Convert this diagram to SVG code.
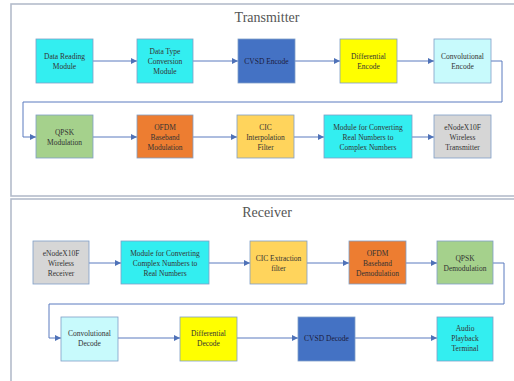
<svg xmlns="http://www.w3.org/2000/svg" width="514" height="381" viewBox="0 0 514 381">
<defs>
<marker id="ah" markerWidth="6" markerHeight="6" refX="6" refY="3" orient="auto" markerUnits="userSpaceOnUse">
<path d="M0,0 L6,3 L0,6 Z" fill="#4f72b8"/>
</marker>
<style>
.panel{fill:#ffffff;stroke:#b4bccb;stroke-width:1.6}
.box{stroke:#7f9fc7;stroke-width:0.8}
.lbl{font-family:'Liberation Serif','Times New Roman',serif;font-size:7.5px;fill:#333;text-anchor:middle}
.title{font-family:'Liberation Serif','Times New Roman',serif;font-size:14px;fill:#555;text-anchor:middle}
.conn{fill:none;stroke:#5b7bbf;stroke-width:1}
</style>
</defs>
<rect width="514" height="381" fill="#ffffff"/>
<rect class="panel" x="11" y="4" width="520" height="192"/>
<rect class="panel" x="11" y="199" width="520" height="200"/>
<text class="title" x="267" y="22">Transmitter</text>
<text class="title" x="267" y="217">Receiver</text>

<g id="connectors">
<line class="conn" x1="93" y1="61" x2="137" y2="61" marker-end="url(#ah)"/>
<line class="conn" x1="193" y1="61" x2="238" y2="61" marker-end="url(#ah)"/>
<line class="conn" x1="295" y1="61" x2="340" y2="61" marker-end="url(#ah)"/>
<line class="conn" x1="397" y1="61" x2="434" y2="61" marker-end="url(#ah)"/>
<polyline class="conn" points="491,61 502,61 502,102 23,102 23,137 36,137" marker-end="url(#ah)"/>
<line class="conn" x1="93" y1="137" x2="137" y2="137" marker-end="url(#ah)"/>
<line class="conn" x1="193" y1="137" x2="237" y2="137" marker-end="url(#ah)"/>
<line class="conn" x1="294" y1="137" x2="324" y2="137" marker-end="url(#ah)"/>
<line class="conn" x1="412" y1="137" x2="434" y2="137" marker-end="url(#ah)"/>

<line class="conn" x1="89" y1="263" x2="121" y2="263" marker-end="url(#ah)"/>
<line class="conn" x1="209" y1="263" x2="250" y2="263" marker-end="url(#ah)"/>
<line class="conn" x1="307" y1="263" x2="349" y2="263" marker-end="url(#ah)"/>
<line class="conn" x1="406" y1="263" x2="437" y2="263" marker-end="url(#ah)"/>
<polyline class="conn" points="493,263 504,263 504,304 49,304 49,338 61,338" marker-end="url(#ah)"/>
<line class="conn" x1="118" y1="338" x2="180" y2="338" marker-end="url(#ah)"/>
<line class="conn" x1="237" y1="338" x2="298" y2="338" marker-end="url(#ah)"/>
<line class="conn" x1="355" y1="338" x2="437" y2="338" marker-end="url(#ah)"/>
</g>

<g id="t1"><rect class="box" x="36" y="39" width="57" height="44" fill="#33eef0"/>
<text class="lbl" x="64.5" y="58.5">Data Reading</text><text class="lbl" x="64.5" y="68.5">Module</text></g>
<g id="t2"><rect class="box" x="137" y="39" width="56" height="44" fill="#33eef0"/>
<text class="lbl" x="165" y="53.5">Data Type</text><text class="lbl" x="165" y="63.5">Conversion</text><text class="lbl" x="165" y="73.5">Module</text></g>
<g id="t3"><rect class="box" x="238" y="39" width="57" height="44" fill="#4472c4"/>
<text class="lbl" x="266.5" y="63.5" style="fill:#1c1c3c">CVSD Encode</text></g>
<g id="t4"><rect class="box" x="340" y="39" width="57" height="44" fill="#ffff00"/>
<text class="lbl" x="368.5" y="58.5">Differential</text><text class="lbl" x="368.5" y="68.5">Encode</text></g>
<g id="t5"><rect class="box" x="434" y="39" width="57" height="44" fill="#c8fafc"/>
<text class="lbl" x="462.5" y="58.5">Convolutional</text><text class="lbl" x="462.5" y="68.5">Encode</text></g>

<g id="t6"><rect class="box" x="36" y="115" width="57" height="43" fill="#a5d18c"/>
<text class="lbl" x="64.5" y="134.5">QPSK</text><text class="lbl" x="64.5" y="144.5">Modulation</text></g>
<g id="t7"><rect class="box" x="137" y="115" width="56" height="43" fill="#ed7d31"/>
<text class="lbl" x="165" y="129.5">OFDM</text><text class="lbl" x="165" y="139.5">Baseband</text><text class="lbl" x="165" y="149.5">Modulation</text></g>
<g id="t8"><rect class="box" x="237" y="115" width="57" height="43" fill="#ffd45c"/>
<text class="lbl" x="265.5" y="129.5">CIC</text><text class="lbl" x="265.5" y="139.5">Interpolation</text><text class="lbl" x="265.5" y="149.5">Filter</text></g>
<g id="t9"><rect class="box" x="324" y="115" width="88" height="43" fill="#33eef0"/>
<text class="lbl" x="368" y="129.5">Module for Converting</text><text class="lbl" x="368" y="139.5">Real Numbers to</text><text class="lbl" x="368" y="149.5">Complex Numbers</text></g>
<g id="t10"><rect class="box" x="434" y="115" width="57" height="43" fill="#d6d6d6"/>
<text class="lbl" x="462.5" y="129.5">eNodeX10F</text><text class="lbl" x="462.5" y="139.5">Wireless</text><text class="lbl" x="462.5" y="149.5">Transmitter</text></g>

<g id="r1"><rect class="box" x="33" y="241" width="56" height="43" fill="#d6d6d6"/>
<text class="lbl" x="61" y="255.5">eNodeX10F</text><text class="lbl" x="61" y="265.5">Wireless</text><text class="lbl" x="61" y="275.5">Receiver</text></g>
<g id="r2"><rect class="box" x="121" y="241" width="88" height="43" fill="#33eef0"/>
<text class="lbl" x="165" y="255.5">Module for Converting</text><text class="lbl" x="165" y="265.5">Complex Numbers to</text><text class="lbl" x="165" y="275.5">Real Numbers</text></g>
<g id="r3"><rect class="box" x="250" y="241" width="57" height="43" fill="#ffd45c"/>
<text class="lbl" x="278.5" y="260.5">CIC Extraction</text><text class="lbl" x="278.5" y="270.5">filter</text></g>
<g id="r4"><rect class="box" x="349" y="241" width="57" height="43" fill="#ed7d31"/>
<text class="lbl" x="377.5" y="255.5">OFDM</text><text class="lbl" x="377.5" y="265.5">Baseband</text><text class="lbl" x="377.5" y="275.5">Demodulation</text></g>
<g id="r5"><rect class="box" x="437" y="241" width="56" height="43" fill="#a5d18c"/>
<text class="lbl" x="465" y="260.5">QPSK</text><text class="lbl" x="465" y="270.5">Demodulation</text></g>

<g id="r6"><rect class="box" x="61" y="317" width="57" height="44" fill="#c8fafc"/>
<text class="lbl" x="89.5" y="336">Convolutional</text><text class="lbl" x="89.5" y="346">Decode</text></g>
<g id="r7"><rect class="box" x="180" y="317" width="57" height="44" fill="#ffff00"/>
<text class="lbl" x="208.5" y="336">Differential</text><text class="lbl" x="208.5" y="346">Decode</text></g>
<g id="r8"><rect class="box" x="298" y="317" width="57" height="44" fill="#4472c4"/>
<text class="lbl" x="326.5" y="341" style="fill:#1c1c3c">CVSD Decode</text></g>
<g id="r9"><rect class="box" x="437" y="317" width="56" height="44" fill="#33eef0"/>
<text class="lbl" x="465" y="331">Audio</text><text class="lbl" x="465" y="341">Playback</text><text class="lbl" x="465" y="351">Terminal</text></g>
</svg>
